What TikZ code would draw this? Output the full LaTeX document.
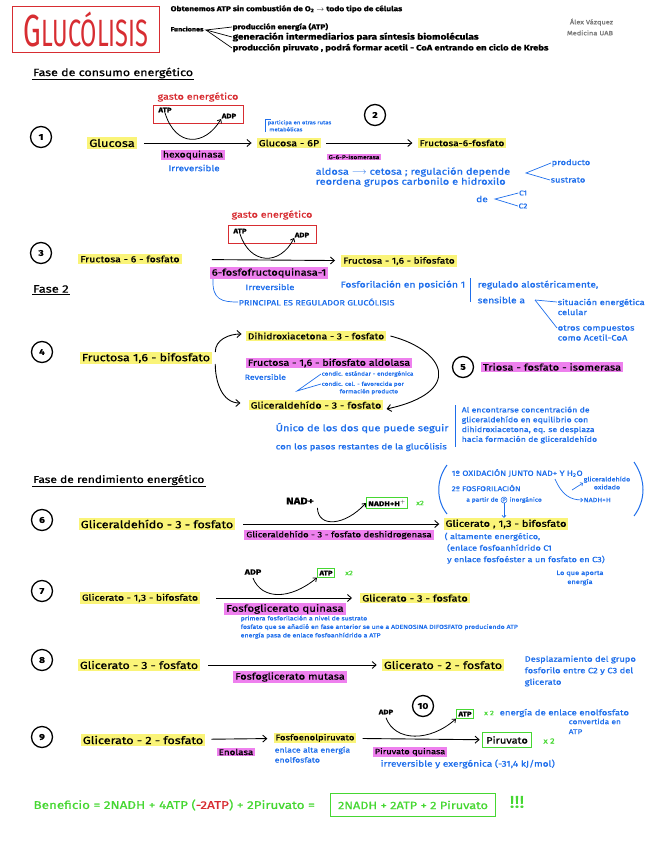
\documentclass[tikz,border=0pt]{standalone}
\usepackage{fontspec}
\setmainfont{Fira Sans}[FakeStretch=1.2, FakeBold=0.9]
\newfontfamily\titlefont{Fira Sans}[FakeStretch=0.62]
\usetikzlibrary{arrows.meta,calc}
\definecolor{hlY}{RGB}{250,244,120}
\definecolor{hlM}{RGB}{238,128,238}
\definecolor{nBlue}{RGB}{30,110,235}
\definecolor{nRed}{RGB}{215,45,50}
\definecolor{nGreen}{RGB}{70,215,50}
\definecolor{nGray}{RGB}{120,120,120}
\newcommand{\fsz}[1]{\fontsize{#1}{#1}\selectfont}
\newcommand{\fsl}[2]{\fontsize{#1}{#2}\selectfont}
\tikzset{
  mol/.style={fill=hlY, inner xsep=2pt, inner ysep=1.5pt, font=\fsz{9}},
  enz/.style={fill=hlM, inner xsep=2pt, inner ysep=1pt, font=\fsz{8}},
  note/.style={text=nBlue, font=\fsz{6}, align=left, inner sep=0.5pt},
  stepc/.style={circle, draw, line width=1.3pt, minimum size=21pt, inner sep=0pt, font=\fsz{8.5}\bfseries},
  rxn/.style={-{Straight Barb[length=4pt,width=7pt]}, line width=0.9pt},
  cur/.style={-{Straight Barb[length=3pt,width=5pt]}, line width=0.8pt},
  bline/.style={nBlue, line width=0.7pt},
  gbox/.style={draw=nGreen, line width=0.9pt, inner sep=2pt},
  rbox/.style={draw=nRed, line width=0.9pt},
  small/.style={font=\fsz{6}\bfseries, inner sep=0.5pt},
  head/.style={font=\fsz{10.4}, inner sep=1pt}
}
\begin{document}
\begin{tikzpicture}[x=1pt,y=-1pt]
\useasboundingbox (0,0) rectangle (656,848);

% ---------- header ----------
\node[rbox, minimum width=147pt, minimum height=46pt, text=nRed, inner sep=0pt] (title) at (86,29)
  {\titlefont\fsz{45}G\fsz{38}LUCÓLISIS};
\node[small, anchor=west, font=\fsz{7}\bfseries] (obt) at (170,9) {Obtenemos ATP sin combustión de O\textsubscript{2} $\rightarrow$ todo tipo de células};
\node[small, anchor=west, font=\fsz{6}\bfseries] (fun) at (170,29) {Funciones};
\node[small, anchor=west, font=\fsz{7}\bfseries] (f1) at (232,27) {producción energía (ATP)};
\node[small, anchor=west, font=\fsz{8.4}\bfseries] (f2) at (232,37) {generación intermediarios para síntesis biomoléculas};
\node[small, anchor=west, font=\fsz{7.8}\bfseries] (f3) at (232,48) {producción piruvato , podrá formar acetil - CoA entrando en ciclo de Krebs};
\coordinate (fo) at (206,30);
\draw[line width=0.7pt] (f1.west) -- (fo) -- (f2.west);
\draw[line width=0.7pt] (fo) -- (f3.west);
\node[text=nGray, font=\fsl{6.2}{11}, align=right] (auth) at (590,27) {Álex Vázquez\\Medicina UAB};

\node[head, anchor=west] (fase1) at (32,73) {Fase de consumo energético};
\draw[line width=0.9pt] (fase1.south west) -- (fase1.south east);

% ---------- step 1 ----------
\node[stepc] (s1) at (41,137) {1};
\node[mol, font=\fsz{10.7}] (glu) at (112,143) {Glucosa};
\node[mol, font=\fsz{9}] (g6p) at (289,143) {Glucosa - 6P};
\draw[rxn, shorten <=7pt, shorten >=5pt] (glu) -- (g6p);
\node[rbox, minimum width=90pt, minimum height=18pt] (box1) at (198,114) {};
\node[text=nRed, font=\fsz{9}] (ge1) at (198,97) {gasto energético};
\node[small, font=\fsz{6.5}\bfseries] (atp1) at (165,110) {ATP};
\node[small, font=\fsz{6.5}\bfseries] (adp1) at (229,116) {ADP};
\draw[cur] (atp1.south) .. controls (176,148) and (205,146) .. (adp1.south west);
\node[enz, font=\fsz{8.7}] (hexo) at (193,155) {hexoquinasa};
\node[note, font=\fsz{8.3}] (irr1) at (194,168) {Irreversible};
\node[note, font=\fsl{5}{7}, anchor=south west] (part) at (267,132) {participa en otras rutas\\ \ metabólicas};
\draw[bline] ($(part.south west)+(-2,0)$) -- ($(part.north west)+(-2,0)$) -- ($(part.north west)+(4,0)$);

\node[stepc] (s2) at (375,115) {2};
\node[mol, font=\fsz{8.5}] (f6p) at (462,143) {Fructosa-6-fosfato};
\draw[rxn, shorten <=5pt, shorten >=5pt] (g6p) -- (f6p);
\node[enz, font=\fsz{5.6}] (g6pi) at (354,157) {G-6-P-isomerasa};
\node[note, font=\fsl{9.2}{10}, anchor=west] (ald) at (315,177) {aldosa $\longrightarrow$ cetosa ; regulación depende\\reordena grupos carbonilo e hidroxilo};
\node[note, font=\fsz{7.8}, anchor=west] (prod) at (551,163) {producto};
\node[note, font=\fsz{7.8}, anchor=west] (sust) at (550,180) {sustrato};
\coordinate (pv) at (526,173);
\draw[bline] (prod.west) -- (pv) -- (sust.west);
\node[note, font=\fsz{8.5}] (de) at (482,199) {de};
\node[note, font=\fsz{7}] (c1) at (523,193) {C1};
\node[note, font=\fsz{7}] (c2) at (523,206) {C2};
\coordinate (dv) at (495,199);
\draw[bline] (c1.west) -- (dv) -- (c2.west);

% ---------- step 3 ----------
\node[stepc] (s3) at (41,253) {3};
\node[mol, font=\fsz{8.8}] (f6pb) at (130,259) {Fructosa - 6 - fosfato};
\node[mol, font=\fsz{8.5}] (f16) at (399,261) {Fructosa - 1,6 - bifosfato};
\draw[rxn, shorten <=30pt, shorten >=6pt] (f6pb) -- (f16);
\node[rbox, minimum width=88pt, minimum height=18pt] (box2) at (272,234) {};
\node[text=nRed, font=\fsz{9}] (ge2) at (272,215) {gasto energético};
\node[small, font=\fsz{6.5}\bfseries] (atp2) at (240,231) {ATP};
\node[small, font=\fsz{6.5}\bfseries] (adp2) at (302,235) {ADP};
\draw[cur] (atp2.south) .. controls (250,265) and (280,266) .. (adp2.south west);
\node[enz, font=\fsz{9.3}] (pfk) at (269,273) {6-fosfofructoquinasa-1};
\node[note, font=\fsz{7.9}] (irr2) at (270,287) {Irreversible};
\node[note, font=\fsz{8.6}, anchor=west] (fosf) at (340,285) {Fosforilación en posición 1};
\node[note, font=\fsz{7.6}, anchor=west] (princ) at (238,302) {PRINCIPAL ES REGULADOR GLUCÓLISIS};
\coordinate (pb) at (213,279);
\draw[bline] (pb) .. controls (212,300) and (222,302) .. (princ.west);
\node[head, anchor=west, font=\fsz{10.8}] (fase2) at (32,289) {Fase 2};
\draw[line width=0.9pt] (fase2.south west) -- (fase2.south east);
\coordinate (vl1) at (470,278);
\coordinate (vl2) at (470,302);
\draw[bline, line width=1pt] (vl1) -- (vl2);
\node[note, font=\fsz{8.5}, anchor=west] (reg) at (477,285) {regulado alostéricamente,};
\node[note, font=\fsz{8.6}, anchor=west] (sens) at (477,300) {sensible a};
\node[note, font=\fsl{7.9}{10}, anchor=west] (sit) at (557,307) {situación energética\\celular};
\node[note, font=\fsl{7.9}{10}, anchor=west] (otr) at (557,333) {otros compuestos\\como Acetil-CoA};
\coordinate (sv) at (535,300);
\draw[bline] (sv) -- ($(sit.west)+(0,-5)$);
\draw[bline] (sv) -- ($(otr.west)+(0,-5)$);

% ---------- step 4 ----------
\node[stepc] (s4) at (42,352) {4};
\node[mol, font=\fsz{10.4}] (f16b) at (146,358) {Fructosa 1,6 - bifosfato};
\node[mol, font=\fsz{8.6}] (dhap) at (316,336) {Dihidroxiacetona - 3 - fosfato};
\node[enz, font=\fsz{9}] (aldo) at (329,363) {Fructosa - 1,6 - bifosfato aldolasa};
\node[mol, font=\fsz{9}] (gap) at (316,405) {Gliceraldehído - 3 - fosfato};
\draw[rxn] ($(f16b.east)+(3,-6)$) to[out=90,in=180] ($(dhap.west)+(-4,-2)$);
\draw[rxn] ($(f16b.east)+(3,6)$) to[out=-90,in=180] ($(gap.west)+(-8,-2)$);
\node[note, font=\fsz{7.3}, anchor=west] (rev) at (244,377) {Reversible};
\node[note, font=\fsz{5.4}, anchor=west] (cd1) at (321,374) {condic. estándar - endergónica};
\node[note, font=\fsl{5.4}{7.5}, anchor=west] (cd2) at (321,388) {condic. cel. - favorecida por\\\hspace*{18pt}formación producto};
\coordinate (cv) at (297,391);
\draw[bline] (cd1.west) -- (cv) -- ($(cd2.west)+(0,-4)$);
\draw[rxn] ($(dhap.east)+(4,0)$) .. controls (445,350) and (465,392) .. ($(gap.east)+(3,4)$);
\node[stepc] (s5) at (463,367) {5};
\node[enz, font=\fsz{9.3}] (trio) at (552,367) {Triosa - fosfato - isomerasa};
\node[note, font=\fsz{9.2}, anchor=west] (uni) at (275,428) {Único de los dos que puede seguir};
\node[note, font=\fsz{8.1}, anchor=west] (con) at (275,447) {con los pasos restantes de la glucólisis};
\coordinate (vl3) at (455,405);
\coordinate (vl4) at (455,447);
\draw[bline, line width=1pt] (vl3) -- (vl4);
\node[note, font=\fsl{7.3}{9.8}, anchor=west] (eq) at (461,425) {Al encontrarse concentración de\\gliceraldehído en equilibrio con\\dihidroxiacetona, eq. se desplaza\\hacia formación de gliceraldehído};

\node[head, anchor=west, font=\fsz{10}] (fase3) at (32,480) {Fase de rendimiento energético};
\draw[line width=0.9pt] (fase3.south west) -- (fase3.south east);

% ---------- step 6 ----------
\node[stepc] (s6) at (42,520) {6};
\node[mol, font=\fsz{10.5}] (gap2) at (157,524) {Gliceraldehído - 3 - fosfato};
\node[mol, font=\fsz{9.2}] (bpg) at (506,524) {Glicerato , 1,3 - bifosfato};
\draw[rxn, shorten <=8pt, shorten >=4pt] (gap2) -- (bpg);
\node[font=\fsz{9.5}\bfseries] (nad) at (300,501) {NAD+};
\node[gbox, font=\fsz{7}\bfseries] (nadh) at (387,503) {NADH+H$^{+}$};
\node[text=nGreen, font=\fsz{6.5}] (x2a) at (420,503) {x2};
\draw[cur] (nad.south east) .. controls (318,528) and (345,526) .. (nadh.west);
\node[enz, font=\fsz{7.9}] (gapdh) at (339,535) {Gliceraldehído - 3 - fosfato deshidrogenasa};
\coordinate (pl1) at (447,465);
\coordinate (pl2) at (447,514);
\coordinate (pr1) at (634,462);
\coordinate (pr2) at (634,516);
\draw[bline, line width=1pt] (pl1) .. controls (436,480) and (436,500) .. (pl2);
\draw[bline, line width=1pt] (pr1) .. controls (646,480) and (646,500) .. (pr2);
\node[note, font=\fsz{7.4}, anchor=west] (ox) at (451,473) {1º OXIDACIÓN JUNTO NAD+ Y H\textsubscript{2}O};
\node[note, font=\fsz{6.9}, anchor=west] (fos) at (451,488) {2º FOSFORILACIÓN};
\node[note, font=\fsz{5.6}, anchor=east] (apart1) at (499,500) {a partir de};
\node[circle, draw=nBlue, text=nBlue, line width=0.5pt, inner sep=0.4pt, font=\fsz{5}] (pcirc) at (504,500) {P};
\node[note, font=\fsz{5.6}, anchor=west] (apart2) at (509,500) {inorgánico};
\draw[bline, -{Straight Barb[length=2pt,width=4pt]}] (pcirc.south) -- (pcirc.south |- bpg.north);
\node[note, font=\fsl{6}{8}, align=center, anchor=west] (gox) at (583,483) {gliceraldehído\\oxidado};
\node[note, font=\fsz{6}, anchor=west] (nadhh) at (583,500) {NADH+H};
\coordinate (oxs) at (555,479);
\draw[bline, -{Straight Barb[length=2pt,width=4pt]}] (oxs) .. controls (562,495) and (570,500) .. (nadhh.west);
\coordinate (oxm) at (572,490);
\draw[bline, -{Straight Barb[length=2pt,width=4pt]}] (oxm) -- (gox.west);
\node[note, font=\fsl{7.6}{11.5}, anchor=north west] (alt) at (444,532) {( altamente energético,\\\ (enlace fosfoanhídrido C1\\\ y enlace fosfoéster a un fosfato en C3)};
\node[note, font=\fsl{6.2}{9}, align=center] (apor) at (580,578) {Lo que aporta\\energía};

% ---------- step 7 ----------
\node[stepc] (s7) at (42,591) {7};
\node[mol, font=\fsz{8.7}] (bpg2) at (140,598) {Glicerato - 1,3 - bifosfato};
\node[mol, font=\fsz{9.2}] (g3p) at (415,598) {Glicerato - 3 - fosfato};
\draw[rxn, shorten <=16pt, shorten >=8pt] (bpg2) -- (g3p);
\node[font=\fsz{7.5}\bfseries] (adp7) at (253,572) {ADP};
\node[gbox, font=\fsz{6.5}\bfseries] (atp7) at (326,573) {ATP};
\node[text=nGreen, font=\fsz{6.5}] (x2b) at (349,573) {x2};
\draw[cur] (adp7.south) .. controls (262,600) and (290,600) .. (atp7.south west);
\node[enz, font=\fsz{9.6}] (pgk) at (285,609) {Fosfoglicerato quinasa};
\node[note, font=\fsl{5.8}{8.5}, anchor=north west] (n7) at (240,615) {primera fosforilación a nivel de sustrato\\fosfato que se añadió en fase anterior se une a ADENOSINA DIFOSFATO produciendo ATP\\energía pasa de enlace fosfoanhídrido a ATP};

% ---------- step 8 ----------
\node[stepc] (s8) at (42,660) {8};
\node[mol, font=\fsz{10.3}] (g3p2) at (139,665) {Glicerato - 3 - fosfato};
\node[mol, font=\fsz{10.3}] (g2p) at (443,665) {Glicerato - 2 - fosfato};
\draw[rxn, shorten <=8pt, shorten >=5pt] (g3p2) -- (g2p);
\node[enz, font=\fsz{9.2}] (pgm) at (290,677) {Fosfoglicerato mutasa};
\node[note, font=\fsl{7.8}{11.5}, anchor=west] (desp) at (524,671) {Desplazamiento del grupo\\fosforilo entre C2 y C3 del\\glicerato};

% ---------- step 9 / 10 ----------
\node[stepc] (s9) at (42,737) {9};
\node[mol, font=\fsz{10.5}] (g2p2) at (143,740) {Glicerato - 2 - fosfato};
\node[mol, font=\fsz{8}] (pep) at (315,738) {Fosfoenolpiruvato};
\draw[rxn, shorten <=6pt, shorten >=6pt] (g2p2) -- (pep);
\node[enz, font=\fsz{8.2}] (eno) at (236,752) {Enolasa};
\node[note, font=\fsl{7.3}{10}, anchor=north west] (pepn) at (274,746) {enlace alta energía\\enolfosfato};
\node[gbox, font=\fsz{9.2}, inner sep=4pt] (pir) at (507,740) {Piruvato};
\draw[rxn, shorten <=6pt, shorten >=2pt] (pep) -- (pir);
\node[text=nGreen, font=\fsz{7.5}] (x2c) at (549,741) {x 2};
\node[font=\fsz{6.5}\bfseries] (adp9) at (386,712) {ADP};
\node[stepc] (s10) at (423,706) {10};
\node[gbox, font=\fsz{6.5}\bfseries] (atp9) at (465,714) {ATP};
\node[text=nGreen, font=\fsz{6.5}] (x2d) at (489,713) {x 2};
\node[note, font=\fsz{8}, anchor=west] (en1) at (499,713) {energía de enlace enolfosfato};
\node[note, font=\fsl{7}{10}, anchor=north west] (en2) at (568,718) {convertida en\\ATP};
\draw[cur] (adp9.south) .. controls (395,742) and (430,742) .. (atp9.south west);
\node[enz, font=\fsz{7.7}] (pk) at (410,752) {Piruvato quinasa};
\node[note, font=\fsz{8.4}, anchor=west] (irr9) at (380,764) {irreversible y exergónica (-31,4 kJ/mol)};

% ---------- beneficio ----------
\node[text=nGreen, font=\fsz{11.2}, anchor=west] (ben) at (30,805)
  {Beneficio = 2NADH + 4ATP (\textcolor{nRed}{-2ATP}) + 2Piruvato =};
\node[gbox, text=nGreen, font=\fsz{10.6}, minimum width=165pt, minimum height=23pt] (res) at (413,805) {2NADH + 2ATP + 2 Piruvato};
\node[text=nGreen, font=\fsz{17}] (exc) at (517,802) {!!!};
\end{tikzpicture}
\end{document}
